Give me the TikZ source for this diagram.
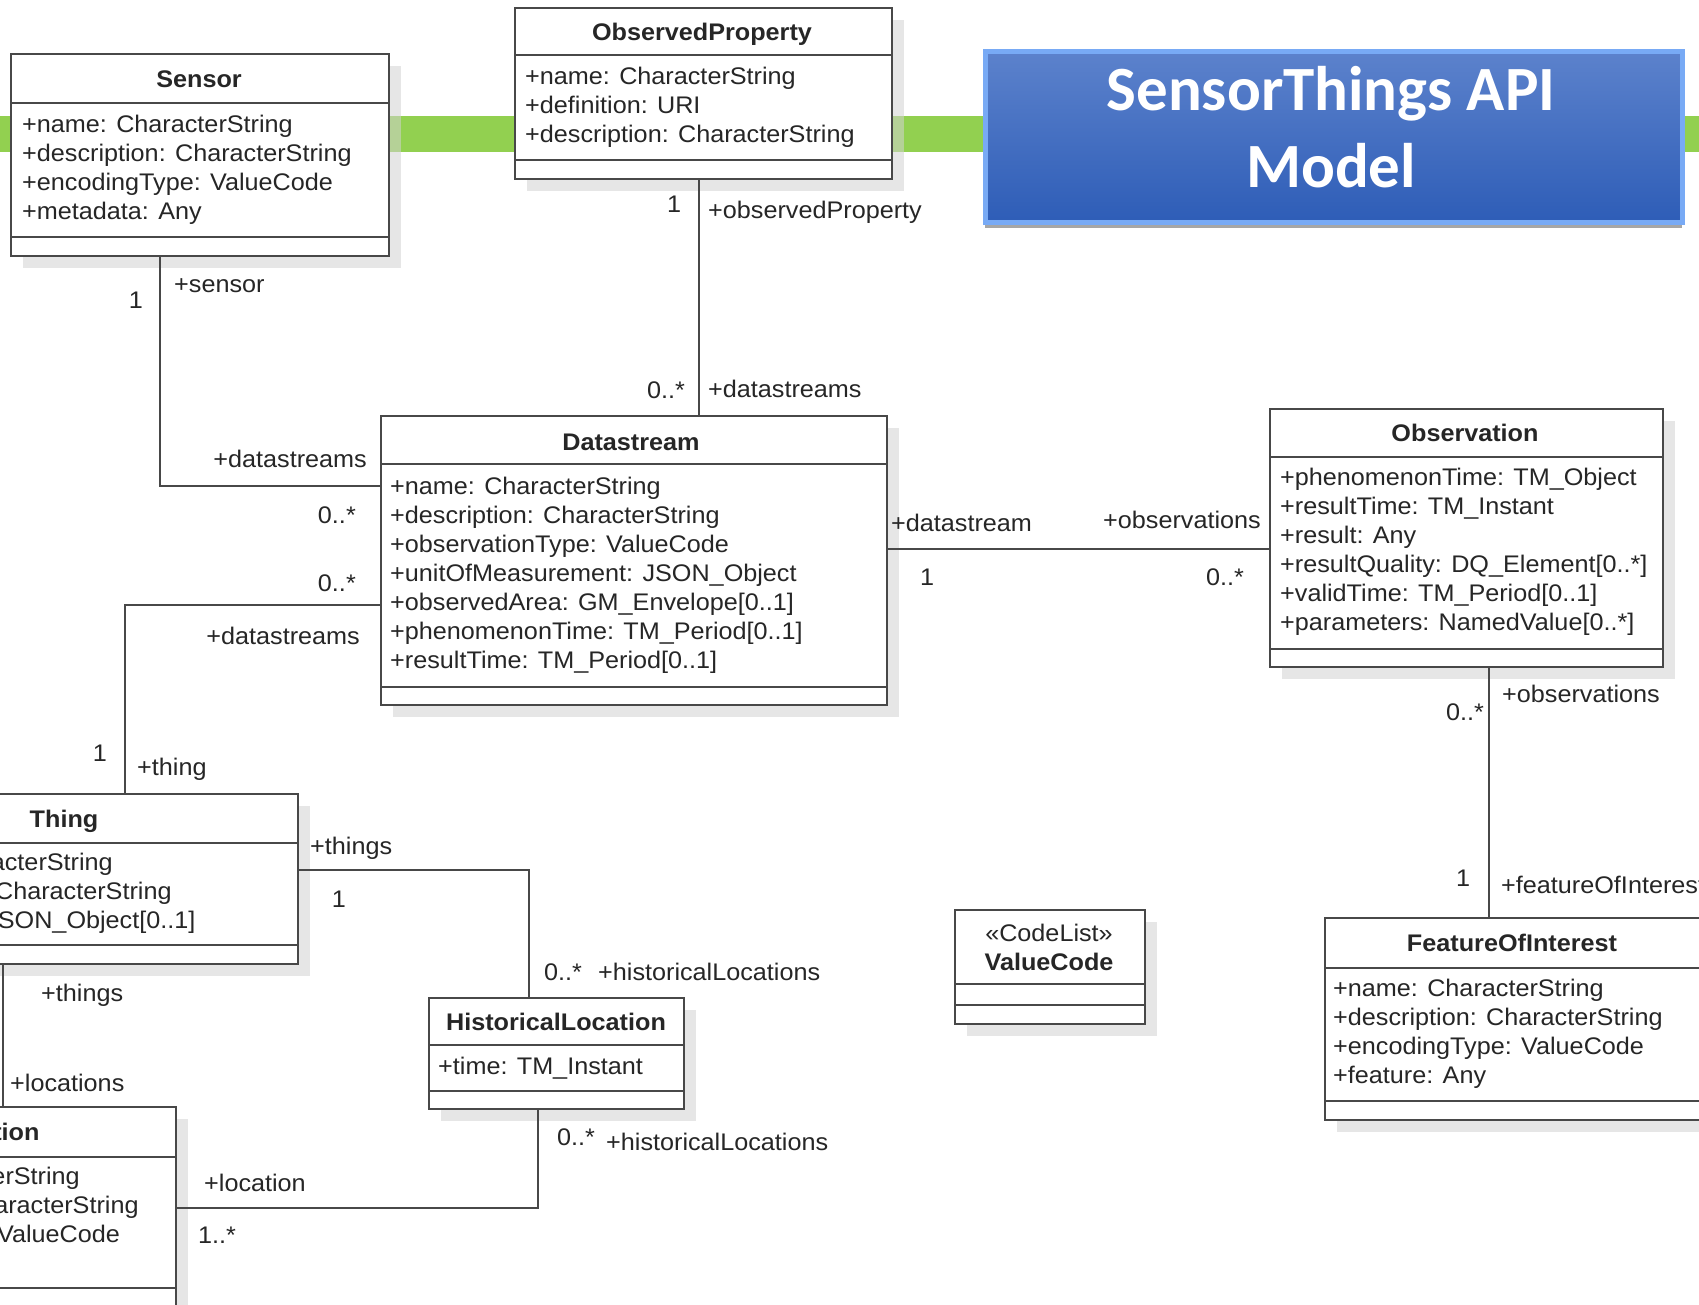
\documentclass[tikz,border=0pt]{standalone}
\usepackage{fontspec}
\setmainfont{Liberation Sans}[FakeStretch=1.05]
\newfontfamily\titlefont{Carlito}
\usetikzlibrary{shadows}

\definecolor{barGreen}{RGB}{146,208,80}
\definecolor{umlLine}{RGB}{72,72,72}
\definecolor{titleTop}{RGB}{92,130,204}
\definecolor{titleBottom}{RGB}{46,93,183}
\definecolor{titleEdge}{RGB}{120,170,245}
\definecolor{boxShade}{RGB}{210,210,210}

\newcommand\umlsize{\fontsize{24}{29}\selectfont}
% one attribute per line, 29pt apart: prefix, left x, first baseline, entries
\newcommand\attrlines[4]{%
  \foreach \txt [count=\k from 0] in {#4}
    \node[attr] (#1\k) at (#2,{#3+29*\k}) {\txt};}

\tikzset{
  umlbox/.style={draw=umlLine, line width=1.8pt, fill=white, inner sep=0pt,
    anchor=north west,
    general shadow={fill=boxShade, opacity=0.55, shadow xshift=12pt, shadow yshift=-12pt}},
  sep/.style={draw=umlLine, line width=1.8pt},
  hdr/.style={font=\umlsize\bfseries, anchor=base, inner sep=0pt, text=black!85},
  attr/.style={font=\umlsize, anchor=base west, inner sep=0pt, text=black!85},
  lbl/.style={font=\umlsize, inner sep=0pt, text=black!85},
  assoc/.style={draw=umlLine, line width=1.8pt},
  titlebox/.style={draw=titleEdge, line width=5pt, top color=titleTop,
    bottom color=titleBottom, inner sep=0pt, anchor=north west,
    drop shadow={shadow xshift=0pt, shadow yshift=-6pt, opacity=0.35, fill=black}},
  titletext/.style={font=\titlefont\bfseries\fontsize{63}{77}\selectfont,
    text=white, anchor=base, inner sep=0pt},
}

\begin{document}
\begin{tikzpicture}[x=1pt, y=-1pt]
\useasboundingbox (0,0) rectangle (1699,1304);
\fill[white] (0,0) rectangle (1699,1304);
\begin{scope}
\clip (0,0) rectangle (1699,1304);

% green band behind the classes
\fill[barGreen] (0,116) rectangle (1699,152);

% ---------------- title
\node[titlebox, minimum width=697pt, minimum height=171pt] (title) at (982.5,48.5) {};
\node[titletext] (title1) at (1331,110) {SensorThings API};
\node[titletext] (title2) at (1331,187) {Model};

% ---------------- Sensor
\node[umlbox, minimum width=378pt, minimum height=202pt] (sensor) at (10,53) {};
\draw[sep] (sensor.west |- 0,103) -- (sensor.east |- 0,103);
\draw[sep] (sensor.west |- 0,237) -- (sensor.east |- 0,237);
\node[hdr] (sensorT) at (199,87) {Sensor};
\attrlines{sa}{22}{132}{+name: CharacterString,+description: CharacterString,+encodingType: ValueCode,+metadata: Any}

% ---------------- ObservedProperty
\node[umlbox, minimum width=377pt, minimum height=171pt] (op) at (514,7) {};
\draw[sep] (op.west |- 0,55) -- (op.east |- 0,55);
\draw[sep] (op.west |- 0,160) -- (op.east |- 0,160);
\node[hdr] (opT) at (702,40) {ObservedProperty};
\attrlines{opa}{525}{84}{+name: CharacterString,+definition: URI,+description: CharacterString}

% ---------------- Datastream
\node[umlbox, minimum width=506pt, minimum height=289pt] (ds) at (380,415) {};
\draw[sep] (ds.west |- 0,464) -- (ds.east |- 0,464);
\draw[sep] (ds.west |- 0,687) -- (ds.east |- 0,687);
\node[hdr] (dsT) at (631,450) {Datastream};
\attrlines{dsa}{390}{494}{+name: CharacterString,+description: CharacterString,+observationType: ValueCode,+unitOfMeasurement: JSON\_Object,+observedArea: GM\_Envelope[0..1],+phenomenonTime: TM\_Period[0..1],+resultTime: TM\_Period[0..1]}

% ---------------- Observation
\node[umlbox, minimum width=393pt, minimum height=258pt] (obs) at (1269,408) {};
\draw[sep] (obs.west |- 0,457) -- (obs.east |- 0,457);
\draw[sep] (obs.west |- 0,649) -- (obs.east |- 0,649);
\node[hdr] (obsT) at (1465,441) {Observation};
\attrlines{oba}{1280}{485}{+phenomenonTime: TM\_Object,+resultTime: TM\_Instant,+result: Any,+resultQuality: DQ\_Element[0..*],+validTime: TM\_Period[0..1],+parameters: NamedValue[0..*]}

% ---------------- FeatureOfInterest
\node[umlbox, minimum width=379pt, minimum height=202pt] (foi) at (1324,917) {};
\draw[sep] (foi.west |- 0,968) -- (foi.east |- 0,968);
\draw[sep] (foi.west |- 0,1101) -- (foi.east |- 0,1101);
\node[hdr] (foiT) at (1512,951) {FeatureOfInterest};
\attrlines{foa}{1333}{996}{+name: CharacterString,+description: CharacterString,+encodingType: ValueCode,+feature: Any}

% ---------------- ValueCode code list
\node[umlbox, minimum width=190pt, minimum height=114pt] (vc) at (954,909) {};
\draw[sep] (vc.west |- 0,984) -- (vc.east |- 0,984);
\draw[sep] (vc.west |- 0,1005) -- (vc.east |- 0,1005);
\node[lbl, anchor=base] (vcS) at (1049,941) {«CodeList»};
\node[hdr] (vcT) at (1049,970) {ValueCode};

% ---------------- Thing
\node[umlbox, minimum width=466pt, minimum height=170pt] (thing) at (-169,793) {};
\draw[sep] (thing.west |- 0,843) -- (thing.east |- 0,843);
\draw[sep] (thing.west |- 0,945) -- (thing.east |- 0,945);
\node[hdr] (thingT) at (64,827) {Thing};
\attrlines{tha}{-158}{870}{+name: CharacterString,+description: CharacterString,+properties: JSON\_Object[0..1]}

% ---------------- HistoricalLocation
\node[umlbox, minimum width=255pt, minimum height=111pt] (hl) at (428,997) {};
\draw[sep] (hl.west |- 0,1045) -- (hl.east |- 0,1045);
\draw[sep] (hl.west |- 0,1091) -- (hl.east |- 0,1091);
\node[hdr] (hlT) at (556,1030) {HistoricalLocation};
\attrlines{hla}{438}{1074}{+time: TM\_Instant}

% ---------------- Location
\node[umlbox, minimum width=377pt, minimum height=214pt] (loc) at (-202,1106) {};
\draw[sep] (loc.west |- 0,1157) -- (loc.east |- 0,1157);
\draw[sep] (loc.west |- 0,1288) -- (loc.east |- 0,1288);
\node[hdr] (locT) at (-13,1140) {Location};
\attrlines{loa}{-191}{1184}{+name: CharacterString,+description: CharacterString,+encodingType: ValueCode}

% ---------------- associations
\draw[assoc] (sensor.south -| 160,0) |- (ds.west |- 0,486);
\draw[assoc] (op.south -| 699,0) -- (ds.north -| 699,0);
\draw[assoc] (ds.west |- 0,605) -| (thing.north -| 125,0);
\draw[assoc] (ds.east |- 0,549) -- (obs.west |- 0,549);
\draw[assoc] (obs.south -| 1489,0) -- (foi.north -| 1489,0);
\draw[assoc] (thing.east |- 0,870) -| (hl.north -| 529,0);
\draw[assoc] (hl.south -| 538,0) |- (loc.east |- 0,1208);
\draw[assoc] (thing.south -| 3,0) -- (loc.north -| 3,0);

% ---------------- role names and multiplicities
\node[lbl, anchor=base] (m1) at (136,308) {1};
\node[lbl, anchor=base west] (r1) at (174,292) {+sensor};
\node[lbl, anchor=base] (m2) at (674,212) {1};
\node[lbl, anchor=base west] (r2) at (708,218) {+observedProperty};
\node[lbl, anchor=base] (m3) at (666,398) {0..*};
\node[lbl, anchor=base west] (r3) at (708,397) {+datastreams};
\node[lbl, anchor=base east] (r4) at (367,467) {+datastreams};
\node[lbl, anchor=base east] (m4) at (356,523) {0..*};
\node[lbl, anchor=base east] (m5) at (356,591) {0..*};
\node[lbl, anchor=base east] (r5) at (360,644) {+datastreams};
\node[lbl, anchor=base] (m6) at (100,761) {1};
\node[lbl, anchor=base west] (r6) at (137,775) {+thing};
\node[lbl, anchor=base west] (r7) at (891,531) {+datastream};
\node[lbl, anchor=base east] (r8) at (1261,528) {+observations};
\node[lbl, anchor=base] (m7) at (927,585) {1};
\node[lbl, anchor=base] (m8) at (1225,585) {0..*};
\node[lbl, anchor=base] (m9) at (1465,720) {0..*};
\node[lbl, anchor=base west] (r9) at (1502,702) {+observations};
\node[lbl, anchor=base] (m10) at (1463,886) {1};
\node[lbl, anchor=base west] (r10) at (1501,893) {+featureOfInterest};
\node[lbl, anchor=base west] (r11) at (310,854) {+things};
\node[lbl, anchor=base] (m11) at (339,907) {1};
\node[lbl, anchor=base west] (m12) at (544,980) {0..*};
\node[lbl, anchor=base west] (r12) at (598,980) {+historicalLocations};
\node[lbl, anchor=base west] (m13) at (557,1145) {0..*};
\node[lbl, anchor=base west] (r13) at (606,1150) {+historicalLocations};
\node[lbl, anchor=base west] (r14) at (204,1191) {+location};
\node[lbl, anchor=base west] (m14) at (198,1243) {1..*};
\node[lbl, anchor=base west] (r15) at (41,1001) {+things};
\node[lbl, anchor=base west] (r16) at (10,1091) {+locations};
\end{scope}
\end{tikzpicture}
\end{document}
